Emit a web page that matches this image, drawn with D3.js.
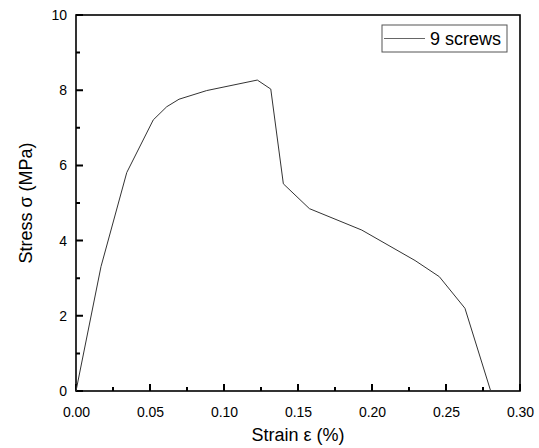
<!DOCTYPE html>
<html>
<head>
<meta charset="utf-8">
<script src="https://cdn.jsdelivr.net/npm/d3@7"></script>
<style>
  body { margin: 0; background: #fff; }
  svg { font-family: Arial, "Liberation Sans", sans-serif; }
</style>
</head>
<body>
<svg width="539" height="448"></svg>
<script>
// strain (%) and stress (MPa)
const strain = [0, 0.0169, 0.0343, 0.0522, 0.0613, 0.0696, 0.0883, 0.1225, 0.1316, 0.1401, 0.1577, 0.1931, 0.2291, 0.2455, 0.2628, 0.2802];
const stress = [0, 3.31, 5.81, 7.21, 7.56, 7.76, 7.99, 8.27, 8.03, 5.51, 4.85, 4.28, 3.47, 3.04, 2.20, 0.0];
const seriesName = '9 screws';
const xTicks = [0, 0.05, 0.10, 0.15, 0.20, 0.25, 0.30];
const xMinor = [0.025, 0.075, 0.125, 0.175, 0.225, 0.275];
const yTicks = [0, 2, 4, 6, 8, 10];
const yMinor = [1, 3, 5, 7, 9];

const svg = d3.select('svg');
const mLeft = 76, mRight = 520, mTop = 15, mBottom = 391;

const x = d3.scaleLinear().domain([0, 0.3]).range([mLeft, mRight]);
const y = d3.scaleLinear().domain([0, 10]).range([mBottom, mTop]);

// tick labels via d3 axes (tick lines drawn separately)
svg.append('g')
  .attr('transform', `translate(0,${mBottom})`)
  .call(d3.axisBottom(x).tickValues(xTicks).tickSize(0).tickPadding(16).tickFormat(d3.format('.2f')))
  .call(g => g.select('.domain').remove())
  .call(g => g.selectAll('text').attr('font-size', 14).attr('fill', '#000').attr('font-family', 'Arial, "Liberation Sans", sans-serif'));
svg.append('g')
  .attr('transform', `translate(${mLeft},0)`)
  .call(d3.axisLeft(y).tickValues(yTicks).tickSize(0).tickPadding(9))
  .call(g => g.select('.domain').remove())
  .call(g => g.selectAll('text').attr('font-size', 14).attr('fill', '#000').attr('font-family', 'Arial, "Liberation Sans", sans-serif'));

// inward tick marks, drawn as one path
const tickPath = d3.path();
xTicks.forEach(v => { tickPath.moveTo(x(v), mBottom); tickPath.lineTo(x(v), mBottom - 7); });
xMinor.forEach(v => { tickPath.moveTo(x(v), mBottom); tickPath.lineTo(x(v), mBottom - 4); });
yTicks.forEach(v => { tickPath.moveTo(mLeft, y(v)); tickPath.lineTo(mLeft + 7, y(v)); });
yMinor.forEach(v => { tickPath.moveTo(mLeft, y(v)); tickPath.lineTo(mLeft + 4, y(v)); });
svg.append('path')
  .attr('d', tickPath.toString())
  .attr('fill', 'none')
  .attr('stroke', '#000')
  .attr('stroke-width', 2);

// frame
svg.append('rect')
  .attr('x', mLeft).attr('y', mTop)
  .attr('width', mRight - mLeft).attr('height', mBottom - mTop)
  .attr('fill', 'none').attr('stroke', '#000').attr('stroke-width', 1.6);

// curve
const pts = strain.map((s, i) => [s, stress[i]]);
svg.append('path')
  .datum(pts)
  .attr('fill', 'none')
  .attr('stroke', '#333')
  .attr('stroke-width', 1)
  .attr('d', d3.line().x(d => x(d[0])).y(d => y(d[1])));

// legend
const lg = svg.append('g');
lg.append('rect')
  .attr('x', 382).attr('y', 25).attr('width', 125).attr('height', 27)
  .attr('fill', '#fff').attr('stroke', '#555').attr('stroke-width', 1);
lg.append('line')
  .attr('x1', 384).attr('x2', 425).attr('y1', 38.5).attr('y2', 38.5)
  .attr('stroke', '#666').attr('stroke-width', 1);
lg.append('text')
  .attr('x', 430).attr('y', 45)
  .attr('font-size', 18)
  .text(seriesName);

// axis titles
svg.append('text')
  .attr('x', (mLeft + mRight) / 2).attr('y', 441)
  .attr('text-anchor', 'middle')
  .attr('font-size', 18)
  .text('Strain ε (%)');
svg.append('text')
  .attr('transform', `translate(32,${(mTop + mBottom) / 2}) rotate(-90)`)
  .attr('text-anchor', 'middle')
  .attr('font-size', 18)
  .text('Stress σ (MPa)');
</script>
</body>
</html>
